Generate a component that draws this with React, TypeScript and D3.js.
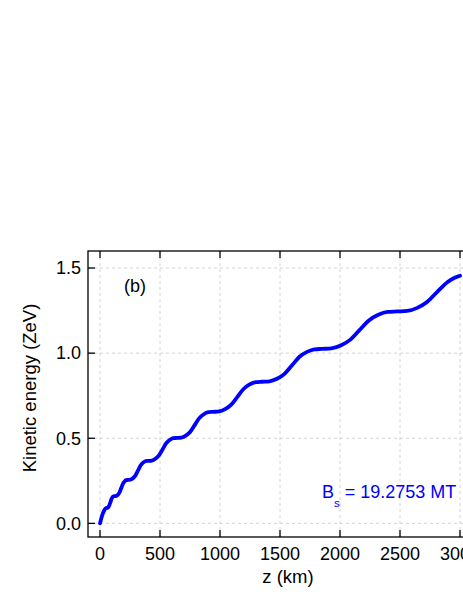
import React from "react";
import * as d3 from "d3";

const zValues = [0, 13, 26, 39, 52, 61, 69.5, 78, 87, 96, 104.5, 113, 122, 135.75, 149.5, 163.25, 177, 190.75, 204.5, 218.25, 232, 253.25, 274.5, 295.75, 317, 338.25, 359.5, 380.75, 402, 431.75, 461.5, 491.25, 521, 550.75, 580.5, 610.25, 640, 677.5, 715, 752.5, 790, 827.5, 865, 902.5, 940, 991.25, 1042.5, 1093.75, 1145, 1196.25, 1247.5, 1298.75, 1350, 1412.5, 1475, 1537.5, 1600, 1662.5, 1725, 1787.5, 1850, 1928, 2006, 2084, 2162.5, 2241, 2319, 2397, 2475, 2559, 2644, 2728, 2812.5, 2897, 2960, 3000];
const energyValues = [0, 0.035, 0.062, 0.081, 0.09, 0.091, 0.096, 0.107, 0.125, 0.143, 0.154, 0.159, 0.16, 0.1612, 0.1686, 0.1828, 0.2075, 0.2322, 0.2465, 0.2538, 0.255, 0.2565, 0.2651, 0.2819, 0.311, 0.3401, 0.3569, 0.3655, 0.367, 0.3688, 0.3792, 0.3994, 0.4345, 0.4696, 0.4899, 0.5002, 0.502, 0.504, 0.5158, 0.5387, 0.5785, 0.6183, 0.6412, 0.653, 0.655, 0.6573, 0.6709, 0.6975, 0.7435, 0.7895, 0.8161, 0.8297, 0.832, 0.8345, 0.8494, 0.8783, 0.9285, 0.9787, 1.0076, 1.0225, 1.025, 1.0279, 1.0448, 1.0778, 1.135, 1.1922, 1.2252, 1.2421, 1.245, 1.248, 1.266, 1.302, 1.362, 1.418, 1.444, 1.455];
const xTicks = [0, 500, 1000, 1500, 2000, 2500, 3000];
const yTicks = [0, 0.5, 1.0, 1.5];

const W = 463;
const H = 599;
const left = 88, top = 251, bottom = 537, right = 472;
const font = "'Liberation Sans', Arial, sans-serif";

export default function App() {
  const x = d3.scaleLinear().domain([-100, 3100]).range([left, right]);
  const y = d3.scaleLinear().domain([-0.08, 1.6]).range([bottom, top]);
  const pts = zValues.map((z, i) => [z, energyValues[i]] as [number, number]);
  const line = d3.line<[number, number]>().x(d => x(d[0])).y(d => y(d[1])).curve(d3.curveMonotoneX);
  const tl = 7;
  return (
    <svg width={W} height={H} style={{ position: "absolute", left: 0, top: 0, display: "block" }} fontFamily={font}>
      <rect x={0} y={0} width={W} height={H} fill="#fff" />
      {xTicks.map(t => (
        <line key={"gx" + t} x1={x(t)} x2={x(t)} y1={top} y2={bottom} stroke="#d4d4d4" strokeWidth={1} strokeDasharray="3,3" />
      ))}
      {yTicks.map(t => (
        <line key={"gy" + t} x1={left} x2={right} y1={y(t)} y2={y(t)} stroke="#d4d4d4" strokeWidth={1} strokeDasharray="3,3" />
      ))}
      <path d={line(pts) || ""} fill="none" stroke="#0000ff" strokeWidth={3.8} strokeLinecap="round" strokeLinejoin="round" />
      <rect x={left} y={top} width={right - left} height={bottom - top} fill="none" stroke="#000" strokeWidth={1.3} />
      {xTicks.map(t => (
        <g key={"tx" + t}>
          <line x1={x(t)} x2={x(t)} y1={bottom} y2={bottom - tl} stroke="#000" strokeWidth={1.3} />
          <line x1={x(t)} x2={x(t)} y1={top} y2={top + tl} stroke="#000" strokeWidth={1.3} />
          <text x={x(t)} y={559.5} textAnchor="middle" fontSize={18} fill="#000">{t}</text>
        </g>
      ))}
      {yTicks.map(t => (
        <g key={"ty" + t}>
          <line x1={left} x2={left + tl} y1={y(t)} y2={y(t)} stroke="#000" strokeWidth={1.3} />
          <text x={81} y={y(t)} dy="0.35em" textAnchor="end" fontSize={18} fill="#000">{t.toFixed(1)}</text>
        </g>
      ))}
      <text x={288} y={583} textAnchor="middle" fontSize={18.5} fill="#000">z (km)</text>
      <text transform={`translate(35.5,388) rotate(-90)`} textAnchor="middle" fontSize={18.5} fill="#000">Kinetic energy (ZeV)</text>
      <text x={124} y={292} fontSize={18} fill="#000">(b)</text>
      <text x={322} y={498} fontSize={18} fill="#0000ff">
        B<tspan fontSize={11.5} dy={9}>s</tspan><tspan dy={-9}> = 19.2753 MT</tspan>
      </text>
    </svg>
  );
}
